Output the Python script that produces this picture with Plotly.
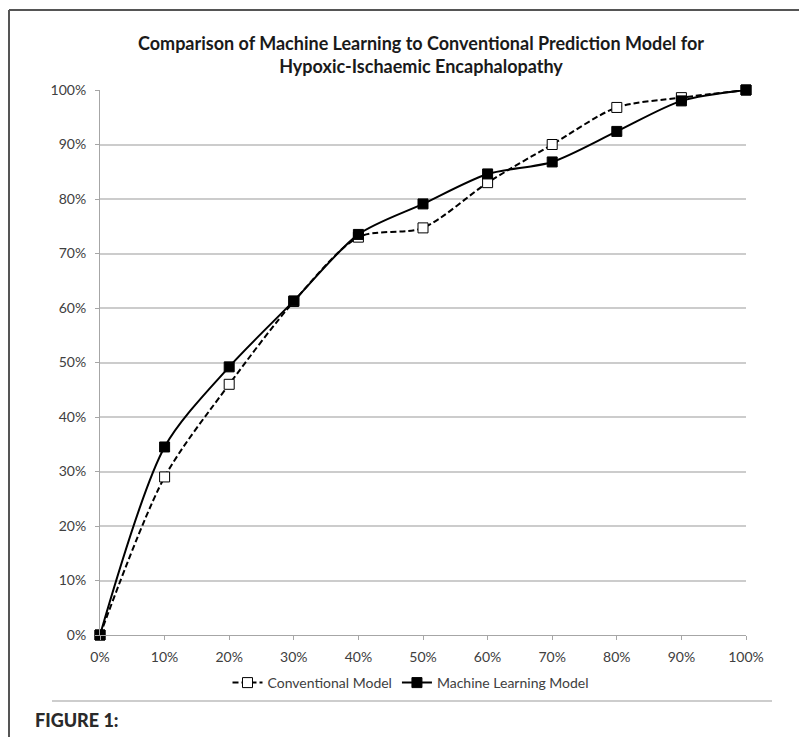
import plotly.graph_objects as go

x_vals = [0, 10, 20, 30, 40, 50, 60, 70, 80, 90, 100]
x_labels = ["0%", "10%", "20%", "30%", "40%", "50%", "60%", "70%", "80%", "90%", "100%"]
conventional = [0, 29.0, 46.0, 61.2, 73.0, 74.7, 83.0, 90.0, 96.8, 98.6, 100]
machine_learning = [0, 34.5, 49.2, 61.3, 73.5, 79.1, 84.6, 86.8, 92.4, 98.0, 100]
y_ticks = [0, 10, 20, 30, 40, 50, 60, 70, 80, 90, 100]
y_labels = ["0%", "10%", "20%", "30%", "40%", "50%", "60%", "70%", "80%", "90%", "100%"]

# page is offset by 8px body margin; work in reference-page coords and convert
OFF = 8
W, H = 807 - OFF, 737 - OFF
L, R, T, B = 100 - OFF, 746 - OFF, 90 - OFF, 635 - OFF


def px(xr):
    return (xr - OFF - L) / (R - L)


def py(yr):
    return (B - (yr - OFF)) / (B - T)


fig = go.Figure()
fig.add_trace(go.Scatter(
    x=x_vals, y=conventional, name="Conventional Model",
    mode="lines+markers", line=dict(color="black", width=2, dash="6px,3px", shape="spline", smoothing=0.8),
    marker=dict(symbol="square", size=10, color="white", line=dict(color="black", width=1)),
    cliponaxis=False,
))
fig.add_trace(go.Scatter(
    x=x_vals, y=machine_learning, name="Machine Learning Model",
    mode="lines+markers", line=dict(color="black", width=2, shape="spline", smoothing=0.8),
    marker=dict(symbol="square", size=10, color="black", line=dict(color="black", width=1)),
    cliponaxis=False,
))

font_family = "Lato, Open Sans, sans-serif"
fig.update_layout(
    width=W, height=H,
    margin=dict(l=L, r=W - R, t=T, b=H - B, autoexpand=False),
    paper_bgcolor="white", plot_bgcolor="white",
    font=dict(family=font_family, size=14, color="#404040"),
    title=dict(
        text="<b>Comparison of Machine Learning to Conventional Prediction Model for<br>Hypoxic-Ischaemic Encaphalopathy</b>",
        x=(421 - OFF) / W, xanchor="center",
        y=1 - (50 - OFF) / H, yanchor="top",
        font=dict(family=font_family, size=18, color="#1a1a1a"),
    ),
    xaxis=dict(
        range=[0, 100], tickvals=x_vals, ticktext=x_labels, tickangle=0,
        showgrid=False, zeroline=False, showline=True, linecolor="#a6a6a6", linewidth=1,
        ticks="outside", ticklen=4, tickcolor="#a6a6a6", ticklabelstandoff=5,
        tickfont=dict(size=14, color="#404040"),
    ),
    yaxis=dict(
        range=[0, 100], tickvals=y_ticks, ticktext=y_labels,
        showgrid=True, gridcolor="#cccccc", gridwidth=1.5, zeroline=False,
        showline=True, linecolor="#a6a6a6", linewidth=1,
        ticks="outside", ticklen=4, tickcolor="#a6a6a6", ticklabelstandoff=6,
        tickfont=dict(size=14, color="#404040"),
    ),
    legend=dict(
        orientation="h", x=px(411), xanchor="center",
        y=py(683), yanchor="middle",
        font=dict(size=14, color="#404040"), itemwidth=30,
        bgcolor="rgba(0,0,0,0)",
    ),
    showlegend=True,
)

# outer frame (left and top), chart bottom border line
fig.add_shape(type="line", xref="paper", yref="paper",
              x0=(1 - L) / (R - L), x1=(W - L) / (R - L),
              y0=py(10), y1=py(10),
              line=dict(color="#555555", width=2))
fig.add_shape(type="line", xref="paper", yref="paper",
              x0=(1 - L) / (R - L), x1=(1 - L) / (R - L),
              y0=py(10), y1=py(737),
              line=dict(color="#555555", width=2))
fig.add_shape(type="line", xref="paper", yref="paper",
              x0=px(52), x1=px(772),
              y0=py(701), y1=py(701),
              line=dict(color="#bdbdbd", width=1.5))

fig.add_annotation(
    text="FIGURE 1:", xref="paper", yref="paper",
    x=px(33), xanchor="left",
    y=py(720), yanchor="middle", showarrow=False,
    font=dict(family=font_family, size=18, color="#2a2a2a", weight=900),
)

fig.write_html("out.html")
